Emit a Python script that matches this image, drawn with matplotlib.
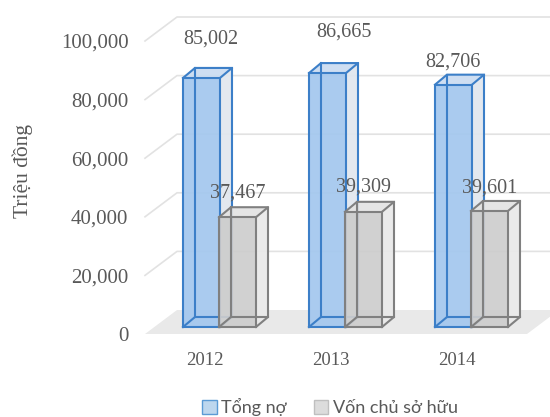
import matplotlib
matplotlib.use("Agg")
import matplotlib.pyplot as plt
from matplotlib.patches import Polygon, Patch
import numpy as np

# ---- data ----
years = ["2012", "2013", "2014"]
tong_no = [85002, 86665, 82706]
von_csh = [37467, 39309, 39601]
series_names = ["Tổng nợ", "Vốn chủ sở hữu"]
y_ticks = [0, 20000, 40000, 60000, 80000, 100000]
y_label = "Triệu đồng"

# ---- layout (pixels -> data conversion) ----
W, H = 550, 417
cat_px = 126.0          # pixels per category
val_px = 0.00293        # pixels per unit value
px_c = 1.0 / cat_px
px_v = 1.0 / val_px

ax_left_px, ax_right_px = 145, 527
ax_bottom_px, ax_top_px = 334, 334 - 100000 * val_px
c0_px = 205             # pixel x of first category

plt.rcParams['font.family'] = ['Liberation Serif', 'DejaVu Serif']

fig = plt.figure(figsize=(W / 100, H / 100), dpi=100)
ax = fig.add_axes([ax_left_px / W, (H - ax_bottom_px) / H,
                   (ax_right_px - ax_left_px) / W, (ax_bottom_px - ax_top_px) / H])
xmin = (ax_left_px - c0_px) * px_c
xmax = (ax_right_px - c0_px) * px_c
ax.set_xlim(xmin, xmax)
ax.set_ylim(0, 100000)
for s in ax.spines.values():
    s.set_visible(False)

txt_col = "#595959"
ax.set_yticks(y_ticks)
ax.set_yticklabels([f"{t:,}" for t in y_ticks], fontsize=15, color=txt_col)
x = np.arange(len(years))
ax.set_xticks(x)
ax.set_xticklabels(years, fontsize=13.5, color=txt_col)
ax.tick_params(axis='y', length=0, pad=12)
ax.tick_params(axis='x', length=0, pad=13)

# floor + back wall
floor_dc, floor_dv = 32 * px_c, 24 * px_v
right_c = (W + 10 - c0_px) * px_c
floor = Polygon([(xmin, 0), (xmax, 0), (xmax + floor_dc, floor_dv), (xmin + floor_dc, floor_dv)],
                closed=True, facecolor="#e9e9e9", edgecolor="none", clip_on=False, zorder=1)
ax.add_patch(floor)
for t in y_ticks[1:]:
    ax.plot([xmin, xmin + floor_dc, right_c], [t, t + floor_dv, t + floor_dv],
            color="#e2e2e2", lw=1.2, clip_on=False, zorder=1)

# bars
bar_w = 37 * px_c
base = 7 * px_v
dc, dv = 12 * px_c, 10 * px_v
blue_off = -22 * px_c
grey_off = 14 * px_c

styles = [
    dict(front="#a3c7ee", side="#e1e7ee", top="#cadcf1", edge="#3c7fc8"),
    dict(front="#cdcdcd", side="#e9e9e9", top="#e3e3e3", edge="#808080"),
]

def draw_bar(xl, h, st, z):
    y0, y1 = base, base + h
    xr = xl + bar_w
    faces = [
        ([(xr, y0), (xr + dc, y0 + dv), (xr + dc, y1 + dv), (xr, y1)], st["side"]),
        ([(xl, y1), (xr, y1), (xr + dc, y1 + dv), (xl + dc, y1 + dv)], st["top"]),
        ([(xl, y0), (xr, y0), (xr, y1), (xl, y1)], st["front"]),
    ]
    for pts, fc in faces:
        ax.add_patch(Polygon(pts, closed=True, facecolor=fc, edgecolor="none",
                             alpha=0.92, clip_on=False, zorder=z))
    lw = 1.5
    segs = [
        [(xl, y0), (xr, y0), (xr, y1), (xl, y1), (xl, y0)],
        [(xr, y0), (xr + dc, y0 + dv), (xr + dc, y1 + dv), (xr, y1)],
        [(xl, y1), (xl + dc, y1 + dv), (xr + dc, y1 + dv)],
        [(xl, y0), (xl + dc, y0 + dv), (xr + dc, y0 + dv)],
        [(xl + dc, y0 + dv), (xl + dc, y1 + dv)],
    ]
    for sg in segs:
        sx, sy = zip(*sg)
        ax.plot(sx, sy, color=st["edge"], lw=lw, clip_on=False, zorder=z + 0.5,
                solid_joinstyle="miter")

for i in range(len(years)):
    draw_bar(x[i] + blue_off, tong_no[i], styles[0], 3 + i * 2)
    draw_bar(x[i] + grey_off, von_csh[i], styles[1], 4 + i * 2)

# value labels (nudges in pixels relative to top-back centre)
blue_nudge = [(3.5, 29), (10.5, 31), (-6.5, 13)]
grey_nudge = [(-6, 14), (-6, 15), (-6, 13)]
for i in range(len(years)):
    for off, vals, nud in ((blue_off, tong_no, blue_nudge), (grey_off, von_csh, grey_nudge)):
        xc = x[i] + off + bar_w / 2 + dc / 2
        yc = base + vals[i] + dv
        ax.annotate(f"{vals[i]:,}", (xc, yc),
                    xytext=(nud[i][0] * 0.72, nud[i][1] * 0.72), textcoords="offset points",
                    ha="center", va="center", fontsize=14.5, color=txt_col,
                    annotation_clip=False, zorder=20)

fig.text(23 / W, 1 - 171 / H, y_label, rotation=90, ha="center", va="center",
         fontsize=15.5, color=txt_col)

handles = [Patch(facecolor="#bdd7ee", edgecolor="#5b9bd5", lw=1.0),
           Patch(facecolor="#dcdcdc", edgecolor="#bfbfbf", lw=1.0)]
leg = fig.legend(handles, series_names, loc="center", bbox_to_anchor=(330 / W, 1 - 407 / H),
                 ncol=2, frameon=False, handlelength=0.8, handleheight=0.8,
                 handletextpad=0.25, columnspacing=1.5,
                 prop=dict(family=["Lato", "DejaVu Sans"], size=13))
for t in leg.get_texts():
    t.set_color(txt_col)

fig.savefig("out.png", dpi=100)
